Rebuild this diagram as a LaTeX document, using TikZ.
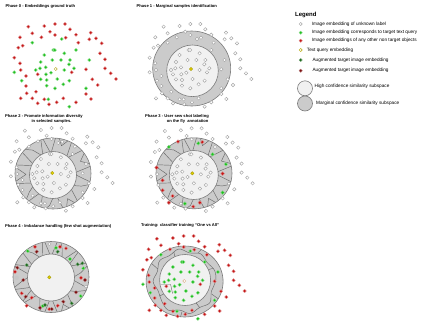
\documentclass[tikz,border=0pt]{standalone}
\usepackage{fontspec}
\setmainfont{Liberation Sans}
\definecolor{cGreen}{HTML}{1FBF1F}
\definecolor{cRed}{HTML}{C41515}
\definecolor{cDGreen}{HTML}{1E6A1E}
\definecolor{cDRed}{HTML}{7A0E0E}
\definecolor{cYel}{HTML}{E2D000}
\definecolor{cRing}{HTML}{CBCBCB}
\definecolor{cInner}{HTML}{F1F1F1}
\definecolor{cEdge}{HTML}{7C7C7C}
\tikzset{
  ttl/.style={font=\bfseries\fontsize{4.1}{5}\selectfont, inner sep=0pt, anchor=west},
  lgt/.style={font=\fontsize{4.7}{5.5}\selectfont, inner sep=0pt, anchor=west},
  odot/.style={fill=white, draw=gray!70, line width=0.45pt},
  rdot/.style={fill=cRed, draw=cRed!45, line width=0.35pt},
  gdot/.style={fill=cGreen, draw=cGreen!45, line width=0.35pt},
  dgdot/.style={fill=cDGreen, draw=cDGreen!50, line width=0.3pt},
  drdot/.style={fill=cDRed, draw=cDRed!50, line width=0.3pt},
  ydot/.style={fill=cYel, draw=cYel!70!black, line width=0.3pt},
  ringfill/.style={fill=cRing},
  ringedge/.style={draw=cEdge, line width=0.6pt},
  innerc/.style={fill=cInner, draw=cEdge, line width=0.6pt},
  part/.style={draw=cEdge!85!black, line width=0.45pt, line join=round},
}
\def\RedList{-27.4/-42.3, -11.4/-43, -0.7/-45, 9.3/-45, 14.3/-39.7, -5.7/-37.3, -23.4/-35.7, -0.7/-34, 20.3/-34.3, 35/-36.3, -35.7/-31.7, 10/-31.3, -14.3/-31.7, 33.6/-29.7, 40.3/-30.7, -33/-23.3, -37.4/-21.3, 22.6/-26.3, 46/-25.7, 44.3/-15.7, -41.4/-11.3, 49.3/-9.7, -35.7/-5.7, -35/1, 16/3.3, 30.3/0.3, 49.3/-0.7, 55/4.3, -29.7/7, -18/5.3, 60.3/10, 36.6/10.3, -29.7/17, 42/16, -19.7/22.7, -29/24.3, 30.3/25, -35/29.3, -23.4/29.3, -11.4/30.3, 7.6/29.3, 35.3/30, -18/34.3, -6.7/35.3, 1/33.3, 20.3/33.3}
\def\GreenList{6/-30, -23.4/-26.3, 20.3/-19, -2.4/-19, -0.9/-19, -11.4/-14, 8.6/-15.7, -3.4/-9, 5.3/-9, 14.3/-9, 33.6/-9, -15/-7, 13.3/-4.7, -10/-1.7, -15.7/-0.7, -20/1, 8.6/1, 18.3/-0.7, -4.7/3.7, -9.7/5.3, -41.4/3.3, -15/10.3, -9/11, 1.6/10, 13.6/11.7, -34/11.7, 7.6/15.3, -9/16.7, -0.7/19.3, 30.3/19.3, -7.4/30.3, 13.6/37.7}
\newcommand\embdots[2]{%
  \foreach \x/\y in \RedList {\path[#1] (\x,\y) circle[radius=1.7pt];}
  \foreach \x/\y in \GreenList {\path[#2] (\x,\y) circle[radius=1.7pt];}
}
\def\PartA{(0:20)--(14:42)--(24:31)--(36:20)--(50:42)--(60:29)--(72:42)--(84:20)--(96:32)--(108:42)--(120:20)--(133:42)--(142:30)--(152:20)--(166:42)--(178:27)--(192:42)--(203:20)--(216:42)--(229:31)--(240:20)--(252:42)--(264:20)--(276:42)--(287:29)--(299:42)--(311:20)--(323:42)--(336:30)--(348:42)--(360:20)}
\def\PartB{(5:20)--(18:42)--(30:29)--(42:20)--(55:42)--(66:30)--(78:42)--(90:20)--(102:42)--(112:30)--(124:20)--(138:42)--(150:20)--(162:42)--(172:29)--(184:20)--(198:42)--(210:20)--(222:42)--(233:30)--(245:20)--(258:42)--(270:20)--(282:42)--(292:30)--(304:20)--(316:42)--(328:20)--(340:42)--(352:30)--(365:20)}
\begin{document}
\begin{tikzpicture}[x=1pt,y=-1pt]
\useasboundingbox (0,0) rectangle (423,322);
\fill[white] (0,0) rectangle (423,322);

% ---------- Phase 0
\node[ttl] (t0) at (5.5,6.7) {Phase 0 - Embeddings ground truth};
\begin{scope}[shift={(55.7,69)}]
  \embdots{rdot}{gdot}
  \path[odot, draw=cYel!60!gray] (0,0) circle[radius=1.6pt];
\end{scope}

% ---------- Phase 1
\node[ttl] (t1) at (136.5,6) {Phase 1 - Marginal samples identification};
\begin{scope}[shift={(191.7,68.5)}]
  \path[ringfill] (0,0) ellipse[x radius=39pt, y radius=37.5pt];
  \path[innerc] (0.8,2.3) circle[radius=25.8pt];
  \path[ringedge] (0,0) ellipse[x radius=39pt, y radius=37.5pt];
\end{scope}
\begin{scope}[shift={(191,69)}]
  \embdots{odot}{odot}
  \path[ydot] (0,0) circle[radius=1.7pt];
\end{scope}

% ---------- Phase 2
\node[ttl] (t2a) at (5,116) {Phase 2 - Promote information diversity};
\node[ttl, anchor=center] (t2b) at (51.5,121.3) {in selected samples.};
\begin{scope}[shift={(53,173.5)}]
  \path[ringfill] (0,0) ellipse[x radius=38pt, y radius=35.5pt];
  \begin{scope}
    \clip (0,0) ellipse[x radius=38pt, y radius=35.5pt];
    \draw[part] \PartA;
  \end{scope}
  \path[innerc] (0,1.5) circle[radius=23.5pt];
  \path[ringedge] (0,0) ellipse[x radius=38pt, y radius=35.5pt];
\end{scope}
\begin{scope}[shift={(52.3,173)}]
  \embdots{odot}{odot}
  \path[ydot] (0,0) circle[radius=1.7pt];
\end{scope}

% ---------- Phase 3
\node[ttl] (t3a) at (145,116) {Phase 3 - User sew shot labeling};
\node[ttl] (t3b) at (166.7,121.7) {on the fly\ \ annotation};
\begin{scope}[shift={(194,173.3)}]
  \path[ringfill] (0,0) ellipse[x radius=38pt, y radius=35.5pt];
  \begin{scope}
    \clip (0,0) ellipse[x radius=38pt, y radius=35.5pt];
    \draw[part] \PartA;
  \end{scope}
  \path[innerc] (-0.2,1.7) circle[radius=24.5pt];
  \path[ringedge] (0,0) ellipse[x radius=38pt, y radius=35.5pt];
\end{scope}
\begin{scope}[shift={(192.3,173.3)}]
  \embdots{odot}{odot}
  \path[ydot] (0,0) circle[radius=1.7pt];
  \foreach \x/\y in {-23.4/-26.3, 6/-30, 20.3/-19, 33.6/-9, 30.3/19.3, -7.4/30.3}
    {\path[gdot] (\x,\y) circle[radius=1.8pt];}
  \foreach \x/\y in {10/-31.3, -14.3/-31.7, -35.7/-5.7, 30.3/0.3, -29.7/7, -29.7/17, -19.7/22.7, -23.4/29.3, 7.6/29.3, 1/33.3}
    {\path[rdot] (\x,\y) circle[radius=1.8pt];}
\end{scope}

% ---------- Phase 4
\node[ttl] (t4) at (5,226) {Phase 4 - Imbalance handling (few shot augmentation)};
\begin{scope}[shift={(51,277)}]
  \path[ringfill] (0,0) ellipse[x radius=38pt, y radius=35.5pt];
  \begin{scope}
    \clip (0,0) ellipse[x radius=38pt, y radius=35.5pt];
    \draw[part] \PartB;
  \end{scope}
  \path[innerc] (0,0.5) circle[radius=23.5pt];
  \path[ringedge] (0,0) ellipse[x radius=38pt, y radius=35.5pt];
\end{scope}
\foreach \x/\y in {27.7/251, 56/247.7, 70/259, 83.3/268.3, 80.7/296, 42.7/306}
  {\path[gdot] (\x,\y) circle[radius=1.8pt];}
\foreach \x/\y in {57.7/251.7, 26.7/265, 77.7/264.3, 82.3/263.3, 45/305, 71.7/303.3}
  {\path[dgdot] (\x,\y) circle[radius=1.8pt];}
\foreach \x/\y in {35/246.7, 60/246.7, 66/248.3, 15/271.7, 81/277.7, 21.7/293.3, 31.7/297.7, 26.7/305.7, 49.3/309, 57.7/305.7}
  {\path[rdot] (\x,\y) circle[radius=1.8pt];}
\foreach \x/\y in {36.7/251.7, 17.3/267.7, 23.3/280, 85/280, 25.7/296.7, 40/307.7, 51.7/309, 63.3/301.7, 76/292.3}
  {\path[drdot] (\x,\y) circle[radius=1.8pt];}
\path[fill=gray!45] (16.7,277.7) circle[radius=2.2pt];
\foreach \x/\y in {49.3/244, 86/286.7}
  {\path[odot] (\x,\y) circle[radius=1.6pt];}
\path[ydot] (49.3,277.3) circle[radius=1.7pt];

% ---------- Training
\node[ttl] (t5) at (141,225.7) {Training: classifier training “One vs All”};
\begin{scope}[shift={(184.6,281.5)}]
  \path[ringfill] (0,0) ellipse[x radius=38.5pt, y radius=35.5pt];
  \begin{scope}
    \clip (0,0) ellipse[x radius=38.5pt, y radius=35.5pt];
    \draw[part] plot[smooth cycle, tension=0.6] coordinates {(0:31) (20:28.5) (40:33) (60:30) (80:32.5) (100:29) (120:33) (140:30) (160:28) (180:31.5) (200:29) (220:32.5) (240:30) (260:33) (280:29) (300:32) (320:29.5) (340:32)};
    \draw[part] (25:30) -- (28:42);
    \draw[part] (95:30.5) -- (98:42);
    \draw[part] (150:29) -- (148:20);
    \draw[part] (205:29.5) -- (210:42);
    \draw[part] (250:31.5) -- (246:20);
    \draw[part] (295:31.5) -- (300:42);
    \draw[part] (335:31) -- (330:20);
    \draw[part] (60:30) -- (64:20);
  \end{scope}
  \path[innerc] (0.5,-1.5) circle[radius=25.5pt];
  \draw[part] (-24,3) -- (-14,3) -- (-12,12);
  \path[ringedge] (0,0) ellipse[x radius=38.5pt, y radius=35.5pt];
\end{scope}
\begin{scope}[shift={(184.3,281)}]
  \embdots{rdot}{gdot}
  \path[odot, draw=brown!60] (0,0) circle[radius=1.6pt];
\end{scope}

% ---------- Legend
\node[font=\bfseries\fontsize{6}{7}\selectfont, inner sep=0pt, anchor=west] (lg) at (295,15) {Legend};
\path[odot] (300.7,24) circle[radius=1.6pt];
\node[lgt] (l1) at (311.7,24) {Image embedding of unknown label};
\path[gdot] (300.7,32.7) circle[radius=1.7pt];
\node[lgt] (l2) at (311.7,32.7) {Image embedding corresponds to target text query};
\path[rdot] (300.7,40.7) circle[radius=1.7pt];
\node[lgt] (l3) at (311.7,40.7) {Image embeddings of any other non target objects};
\path[odot, draw=cYel!80!black] (300.7,50) circle[radius=1.6pt];
\node[lgt] (l4) at (306.7,50) {Text query embedding};
\path[dgdot] (300.7,60) circle[radius=1.7pt];
\node[lgt] (l5) at (312.3,60) {Augmented target image embedding};
\path[drdot] (300.7,70.7) circle[radius=1.7pt];
\node[lgt] (l6) at (312.3,70.7) {Augmented target image embedding};
\path[innerc] (305,88.3) circle[radius=7.5pt];
\node[lgt] (l7) at (314.5,86) {High confidence similarity subspace};
\path[ringfill, ringedge] (305,103.5) circle[radius=7.5pt];
\node[lgt] (l8) at (316,103.3) {Marginal confidence similarity subspace};
\end{tikzpicture}
\end{document}
